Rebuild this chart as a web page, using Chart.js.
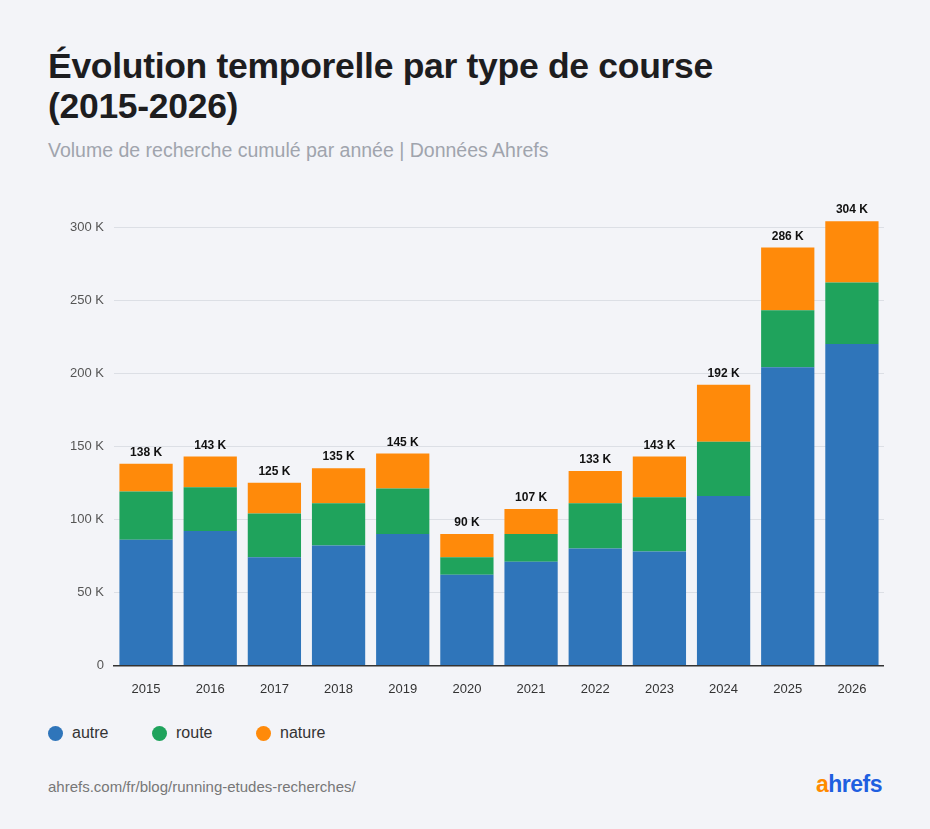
<!DOCTYPE html>
<html>
<head>
<meta charset="utf-8">
<script src="https://cdn.jsdelivr.net/npm/chart.js@4"></script>
<style>
  body { margin: 0; background: #f3f4f8; font-family: "Liberation Sans", Arial, sans-serif; width: 930px; height: 829px; position: relative; overflow: hidden; }
  h1 { position: absolute; left: 48px; top: 46px; margin: 0; font-size: 35.5px; line-height: 40px; font-weight: 700; color: #1d1d1f; letter-spacing: -0.3px; }
  .sub { position: absolute; left: 48px; top: 139px; font-size: 19.5px; color: #a0a4ad; }
  #wrap { position: absolute; left: 0; top: 180px; width: 884px; height: 525px; }
  .legend { position: absolute; left: 48px; top: 724px; font-size: 16px; color: #333; display: flex; }
  .legend span { display: inline-flex; align-items: center; width: 104px; }
  .legend i { width: 15px; height: 15px; border-radius: 50%; display: inline-block; margin-right: 9px; }
  .foot { position: absolute; left: 48px; top: 778px; font-size: 15px; color: #777; }
  .logo { position: absolute; right: 48px; top: 771px; font-size: 23px; font-weight: 700; color: #1e5fe0; letter-spacing: -0.5px; }
  .logo b { color: #ff8a00; }
</style>
</head>
<body>
<h1>Évolution temporelle par type de course<br>(2015-2026)</h1>
<div class="sub">Volume de recherche cumulé par année | Données Ahrefs</div>
<div id="wrap"><canvas id="c"></canvas></div>
<div class="legend">
  <span><i style="background:#2f75ba"></i>autre</span>
  <span><i style="background:#1fa35c"></i>route</span>
  <span><i style="background:#ff8a0a"></i>nature</span>
</div>
<div class="foot">ahrefs.com/fr/blog/running-etudes-recherches/</div>
<div class="logo"><b>a</b>hrefs</div>
<script>
const years = ['2015','2016','2017','2018','2019','2020','2021','2022','2023','2024','2025','2026'];
const autre  = [86, 92, 74, 82, 90, 62, 71, 80, 78, 116, 204, 220];
const route  = [33, 30, 30, 29, 31, 12, 19, 31, 37, 37, 39, 42];
const nature = [19, 21, 21, 24, 24, 16, 17, 22, 28, 39, 43, 42];
const totals = [138, 143, 125, 135, 145, 90, 107, 133, 143, 192, 286, 304];

const totalLabels = {
  id: 'totalLabels',
  afterDatasetsDraw(chart) {
    const { ctx } = chart;
    const meta = chart.getDatasetMeta(2);
    ctx.save();
    ctx.font = 'bold 12px "Liberation Sans", Arial, sans-serif';
    ctx.fillStyle = '#111';
    ctx.textAlign = 'center';
    ctx.textBaseline = 'bottom';
    meta.data.forEach((bar, i) => ctx.fillText(totals[i] + ' K', bar.x, bar.y - 5));
    ctx.restore();
  }
};

Chart.defaults.font.family = '"Liberation Sans", Arial, sans-serif';

new Chart(document.getElementById('c'), {
  type: 'bar',
  data: {
    labels: years,
    datasets: [
      { label: 'autre', data: autre, backgroundColor: '#2f75ba' },
      { label: 'route', data: route, backgroundColor: '#1fa35c' },
      { label: 'nature', data: nature, backgroundColor: '#ff8a0a' },
    ],
  },
  options: {
    responsive: true,
    maintainAspectRatio: false,
    animation: false,
    layout: { padding: { left: 60, top: 0, right: 0 } },
    datasets: { bar: { barPercentage: 0.83, categoryPercentage: 1 } },
    scales: {
      x: {
        stacked: true,
        grid: { display: false },
        border: { color: '#333', width: 1.5 },
        ticks: { color: '#333', font: { size: 13 }, padding: 8 },
      },
      y: {
        stacked: true,
        min: 0,
        max: 320,
        afterBuildTicks: axis => { axis.ticks = [0, 50, 100, 150, 200, 250, 300].map(v => ({ value: v })); },
        border: { display: false },
        grid: { color: '#dcdfe5', drawTicks: false },
        ticks: { color: '#555', font: { size: 13 }, padding: 10, callback: v => v === 0 ? '0' : v + ' K' },
      },
    },
    plugins: { legend: false, tooltip: { enabled: false } },
  },
  plugins: [totalLabels],
});
</script>
</body>
</html>
